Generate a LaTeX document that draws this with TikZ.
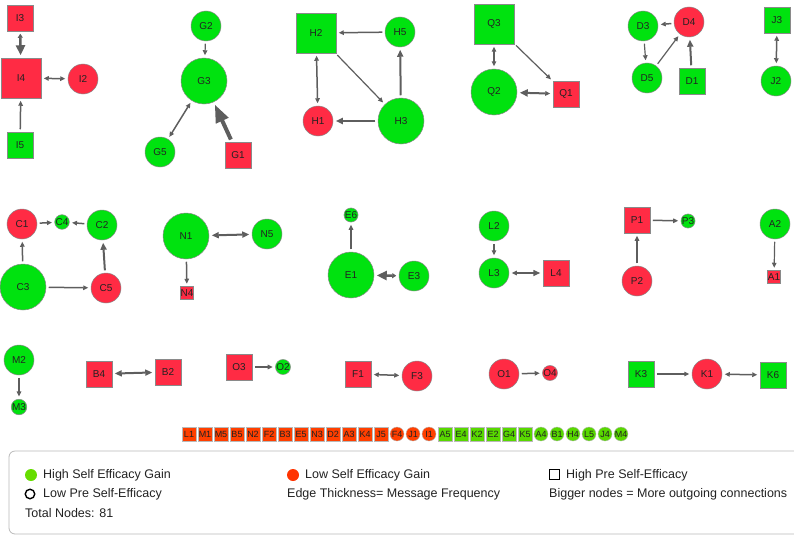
\documentclass[tikz,border=0pt]{standalone}
\usepackage{fontspec}
\setmainfont{Liberation Sans}
\usetikzlibrary{arrows.meta}
\definecolor{ngreen}{HTML}{00E20F}
\definecolor{nred}{HTML}{FF2B44}
\definecolor{sred}{HTML}{FF3F00}
\definecolor{sgreen}{HTML}{58D800}
\definecolor{egray}{HTML}{5E5E5E}
\definecolor{bgray}{HTML}{8A8A8A}
\definecolor{txt}{HTML}{222222}
\definecolor{lgreen}{HTML}{66DD00}
\definecolor{lred}{HTML}{FF3300}
\begin{document}
\begin{tikzpicture}[x=1pt,y=-1pt,
  nd/.style={inner sep=0pt, draw=bgray, line width=0.5pt, text=txt, font=\fontsize{10}{12}\selectfont},
  gc/.style={nd,circle,fill=ngreen},
  rc/.style={nd,circle,fill=nred},
  gs/.style={nd,rectangle,fill=ngreen},
  rs/.style={nd,rectangle,fill=nred},
  cL/.style={minimum size=46pt}, cM/.style={minimum size=30pt}, cS/.style={minimum size=14pt},
  sL/.style={minimum size=40pt}, sM/.style={minimum size=26pt}, sS/.style={minimum size=13pt},
  stripbox/.style={inner sep=0pt, draw=bgray!60, line width=0.4pt, minimum size=14pt, text=txt, font=\fontsize{9}{10}\selectfont},
  ed/.style={draw=egray, line width=#1, shorten >=2.5pt, shorten <=2.5pt},
  ta1/.style={-{Triangle[length=5pt,width=4.5pt]}},
  tb1/.style={{Triangle[length=5pt,width=4.5pt]}-{Triangle[length=5pt,width=4.5pt]}},
  ta2/.style={-{Triangle[length=7pt,width=6pt]}},
  tb2/.style={{Triangle[length=7pt,width=6pt]}-{Triangle[length=7pt,width=6pt]}},
  legtext/.style={anchor=west, inner sep=0pt, text=txt, font=\fontsize{12.5}{14}\selectfont},
]
\useasboundingbox (0,0) rectangle (794,535);

% ---------- Group I ----------
\node[rs,sM] (I3) at (20,18) {I3};
\node[rs,sL] (I4) at (21,78) {I4};
\node[rc,cM] (I2) at (83,79) {I2};
\node[gs,sM] (I5) at (20,145) {I5};
\draw[ed=2.5pt, {Triangle[length=4pt,width=5pt]}-{Triangle[length=10pt,width=9pt]}] (I3) -- (I4);
\draw[ed=1.5pt, tb1] (I4) -- (I2);
\draw[ed=1.5pt, ta1] (I5) -- (I4);

% ---------- Group G ----------
\node[gc,cM] (G2) at (206,26) {G2};
\node[gc,cL] (G3) at (204,81) {G3};
\node[gc,cM] (G5) at (160,152) {G5};
\node[rs,sM] (G1) at (238,155) {G1};
\draw[ed=1.2pt, ta1] (G2) -- (G3);
\draw[ed=1.5pt, tb1] (G3) -- (G5);
\draw[ed=4pt, -{Triangle[length=18pt,width=13pt]}] (G1) -- (G3);

% ---------- Group H ----------
\node[gs,sL] (H2) at (316,33) {H2};
\node[gc,cM] (H5) at (400,32) {H5};
\node[rc,cM] (H1) at (318,121) {H1};
\node[gc,cL] (H3) at (401,121) {H3};
\draw[ed=1.5pt, ta1] (H5) -- (H2);
\draw[ed=1.5pt, tb1] (H2) -- (H1);
\draw[ed=1.2pt, ta1] (H2) -- (H3);
\draw[ed=2pt, ta2] (H3) -- (H5);
\draw[ed=2.5pt, ta2] (H3) -- (H1);

% ---------- Group Q ----------
\node[gs,sL] (Q3) at (494,24) {Q3};
\node[gc,cL] (Q2) at (494,92) {Q2};
\node[rs,sM] (Q1) at (566,94) {Q1};
\draw[ed=1.5pt, tb1] (Q3) -- (Q2);
\draw[ed=1.2pt, ta1] (Q3) -- (Q1);
\draw[ed=2pt, {Triangle[length=8pt,width=7pt]}-{Triangle[length=5pt,width=4.5pt]}] (Q2) -- (Q1);

% ---------- Group D ----------
\node[gc,cM] (D3) at (643,26) {D3};
\node[rc,cM] (D4) at (689,22) {D4};
\node[gc,cM] (D5) at (647,78) {D5};
\node[gs,sM] (D1) at (692,81) {D1};
\draw[ed=1.5pt, ta1] (D4) -- (D3);
\draw[ed=1.2pt, ta1] (D3) -- (D5);
\draw[ed=1.2pt, ta1] (D5) -- (D4);
\draw[ed=2pt, ta2] (D1) -- (D4);

% ---------- Group J ----------
\node[gs,sM] (J3) at (777,20) {J3};
\node[gc,cM] (J2) at (776,81) {J2};
\draw[ed=1.5pt, tb1] (J3) -- (J2);

% ---------- Group C ----------
\node[rc,cM] (C1) at (22,224) {C1};
\node[gc,cS] (C4) at (62,222) {C4};
\node[gc,cM] (C2) at (102,225) {C2};
\node[gc,cL] (C3) at (23,287) {C3};
\node[rc,cM] (C5) at (106,288) {C5};
\draw[ed=1.5pt, ta1] (C1) -- (C4);
\draw[ed=1.5pt, ta1] (C2) -- (C4);
\draw[ed=1.5pt, ta1] (C3) -- (C1);
\draw[ed=1.5pt, ta1] (C3) -- (C5);
\draw[ed=2pt, ta2] (C5) -- (C2);

% ---------- Group N ----------
\node[gc,cL] (N1) at (186,236) {N1};
\node[gc,cM] (N5) at (267,234) {N5};
\node[rs,sS] (N4) at (187,293) {N4};
\draw[ed=2pt, tb2] (N1) -- (N5);
\draw[ed=1.5pt, ta1] (N1) -- (N4);

% ---------- Group E ----------
\node[gc,cS] (E6) at (351,215) {E6};
\node[gc,cL] (E1) at (351,275) {E1};
\node[gc,cM] (E3) at (414,276) {E3};
\draw[ed=1.2pt, ta1] (E1) -- (E6);
\draw[ed=2.5pt, {Triangle[length=4pt,width=5pt]}-{Triangle[length=10pt,width=9pt]}] (E3) -- (E1);

% ---------- Group L ----------
\node[gc,cM] (L2) at (494,226) {L2};
\node[gc,cM] (L3) at (494,273) {L3};
\node[rs,sM] (L4) at (556,273) {L4};
\draw[ed=1.2pt, ta1] (L2) -- (L3);
\draw[ed=1.5pt, {Triangle[length=5pt,width=4.5pt]}-{Triangle[length=7pt,width=6pt]}] (L3) -- (L4);

% ---------- Group P ----------
\node[rs,sM] (P1) at (637,220) {P1};
\node[gc,cS] (P3) at (688,221) {P3};
\node[rc,cM] (P2) at (637,281) {P2};
\draw[ed=1.5pt, ta1] (P1) -- (P3);
\draw[ed=1.2pt, ta1] (P2) -- (P1);

% ---------- Group A ----------
\node[gc,cM] (A2) at (775,224) {A2};
\node[rs,sS] (A1) at (774,277) {A1};
\draw[ed=1.2pt, ta1] (A2) -- (A1);

% ---------- Row 3 ----------
\node[gc,cM] (M2) at (19,360) {M2};
\node[gc,cS] (M3) at (19,407) {M3};
\draw[ed=1.2pt, ta1] (M2) -- (M3);

\node[rs,sM] (B4) at (99,374) {B4};
\node[rs,sM] (B2) at (168,372) {B2};
\draw[ed=2pt, tb2] (B4) -- (B2);

\node[rs,sM] (O3) at (239,367) {O3};
\node[gc,cS] (O2) at (283,367) {O2};
\draw[ed=1.2pt, ta1] (O3) -- (O2);

\node[rs,sM] (F1) at (358,374) {F1};
\node[rc,cM] (F3) at (417,376) {F3};
\draw[ed=1.5pt, tb1] (F1) -- (F3);

\node[rc,cM] (O1) at (504,374) {O1};
\node[rc,cS] (O4) at (550,373) {O4};
\draw[ed=1.5pt, ta1] (O1) -- (O4);

\node[gs,sM] (K3) at (641,374) {K3};
\node[rc,cM] (K1) at (707,374) {K1};
\node[gs,sM] (K6) at (773,375) {K6};
\draw[ed=1.2pt, ta1] (K3) -- (K1);
\draw[ed=1.5pt, tb1] (K1) -- (K6);

% ---------- Strip of isolated nodes ----------
\foreach \n [count=\i from 0] in {L1,M1,M5,B5,N2,F2,B3,E5,N3,D2,A3,K4,J5}
  \node[stripbox, rectangle, fill=sred] (s\n) at ({189+16*\i},434) {\n};
\foreach \n [count=\i from 0] in {F4,J1,I1}
  \node[stripbox, circle, fill=sred] (s\n) at ({397+16*\i},434) {\n};
\foreach \n [count=\i from 0] in {A5,E4,K2,E2,G4,K5}
  \node[stripbox, rectangle, fill=sgreen] (s\n) at ({445+16*\i},434) {\n};
\foreach \n [count=\i from 0] in {A4,B1,H4,L5,J4,M4}
  \node[stripbox, circle, fill=sgreen] (s\n) at ({541+16*\i},434) {\n};

% ---------- Legend ----------
\draw[draw=gray!55, line width=0.8pt, rounded corners=6pt] (9,451) rectangle (830,534);
\node[circle, fill=lgreen, minimum size=12pt, inner sep=0pt] (lgdot) at (31,475) {};
\node[legtext] (lgt) at (43,475) {High Self Efficacy Gain};
\node[circle, fill=lred, minimum size=12pt, inner sep=0pt] (lrdot) at (293,475) {};
\node[legtext] (lrt) at (305,475) {Low Self Efficacy Gain};
\node[rectangle, draw=black, line width=1.2pt, minimum size=10pt, inner sep=0pt] (lsq) at (554.5,474.5) {};
\node[legtext] (lsqt) at (566,475) {High Pre Self-Efficacy};
\node[circle, draw=black, line width=1.4pt, minimum size=9.5pt, inner sep=0pt] (lcirc) at (30,494) {};
\node[legtext] (lct) at (43,494) {Low Pre Self-Efficacy};
\node[legtext] (let) at (287,494) {Edge Thickness= Message Frequency};
\node[legtext] (lbt) at (549,494) {Bigger nodes = More outgoing connections};
\node[legtext] (ltt) at (25,513) {Total Nodes: 81};
\end{tikzpicture}
\end{document}
